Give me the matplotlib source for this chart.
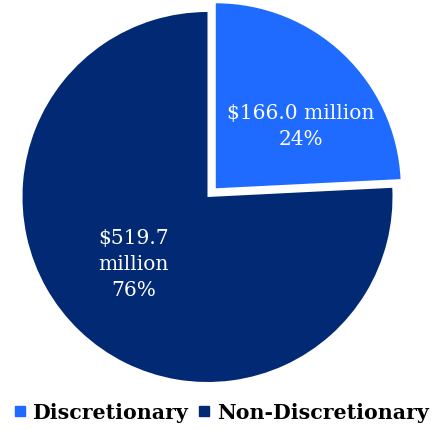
import matplotlib
matplotlib.use("Agg")
import matplotlib.pyplot as plt
from matplotlib.lines import Line2D

categories = ["Discretionary", "Non-Discretionary"]
amounts = [166.0, 519.7]          # $ million
colors = ["#1F6AFF", "#022A74"]

fig = plt.figure(figsize=(4.38, 4.31), dpi=100)
ax = fig.add_axes([22.5 / 438, 48 / 431, 370 / 438, 370 / 431])

wedges, _ = ax.pie(amounts, colors=colors, startangle=90, counterclock=False,
                   explode=[0.065, 0], radius=1,
                   wedgeprops={"linewidth": 0, "clip_on": False})
ax.set_xlim(-1, 1)
ax.set_ylim(-1, 1)
ax.set_aspect("equal")

total = sum(amounts)
label_pos = [(0.505, 0.385), (-0.40, -0.36)]
label_fmt = ["${:.1f} million\n{:.0f}%", "${:.1f}\nmillion\n{:.0f}%"]
for amt, pos, fmt in zip(amounts, label_pos, label_fmt):
    ax.text(pos[0], pos[1], fmt.format(amt, 100 * amt / total),
            ha="center", va="center", color="white", fontsize=14.5,
            family="DejaVu Serif", linespacing=1.45)

handles = [Line2D([], [], marker="s", linestyle="none", markersize=7,
                  markerfacecolor=c, markeredgecolor=c) for c in colors]
fig.legend(handles, categories, loc="lower center", bbox_to_anchor=(0.505, -0.025),
           ncol=2, frameon=False, handlelength=0.6, handletextpad=0.3,
           columnspacing=0.5,
           prop={"family": "DejaVu Serif", "weight": "bold", "size": 14.8})

fig.savefig("out.png", dpi=100)
